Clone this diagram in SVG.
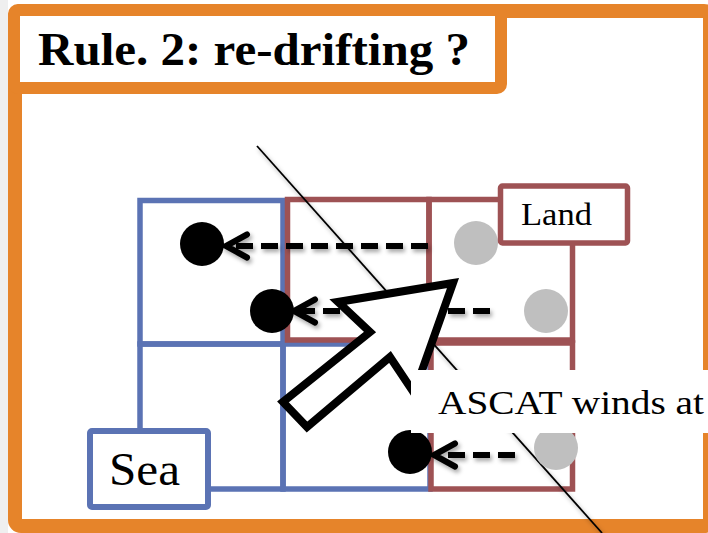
<svg xmlns="http://www.w3.org/2000/svg" width="708" height="533" viewBox="0 0 708 533">
  <style>
    .orange { fill: #ffffff; stroke: #E6842A; }
    .blue { fill: none; stroke: #5B73B4; stroke-width: 5.5; }
    .red { fill: none; stroke: #9E5254; stroke-width: 5.5; }
    .drift { fill: #000000; }
    .orig { fill: #BFBFBF; }
    .dash { fill: none; stroke: #000000; stroke-width: 6; stroke-dasharray: 17 8; marker-end: url(#chev); }
    .txt { font-family: "Liberation Serif", "DejaVu Serif", serif; fill: #000000; }
  </style>
  <defs>
    <marker id="chev" markerUnits="userSpaceOnUse" viewBox="0 0 32 32" markerWidth="32" markerHeight="32" refX="28" refY="16" orient="auto">
      <path d="M7,4.5 L28,16 L7,27.5" fill="none" stroke="#000000" stroke-width="6" stroke-linecap="round" stroke-linejoin="miter"/>
    </marker>
    <filter id="shadow" x="-20%" y="-20%" width="140%" height="160%">
      <feDropShadow dx="2" dy="3" stdDeviation="2" flood-color="#000000" flood-opacity="0.35"/>
    </filter>
  </defs>

  <rect x="0" y="0" width="708" height="533" fill="#ffffff"/>
  <rect x="0" y="0" width="8" height="533" fill="#efefef"/>

  <g id="frame">
    <rect class="orange" x="15" y="11" width="695" height="515" rx="6" stroke-width="14"/>
  </g>

  <g id="title">
    <rect class="orange" x="14" y="10" width="487" height="78" rx="4" stroke-width="12"/>
    <text class="txt" x="38" y="65" font-size="46" font-weight="bold" textLength="432" lengthAdjust="spacingAndGlyphs">Rule. 2: re-drifting ?</text>
  </g>

  <g id="sea-cells">
    <rect class="blue" x="140" y="200.5" width="143" height="143.5"/>
    <rect class="blue" x="140" y="344" width="143" height="145"/>
    <rect class="blue" x="283" y="344" width="147" height="145"/>
  </g>

  <g id="land-cells">
    <rect class="red" x="287.5" y="199.5" width="141.5" height="140.5"/>
    <rect class="red" x="429" y="199.5" width="143.5" height="140.5"/>
    <rect class="red" x="431" y="343" width="141.5" height="146"/>
  </g>

  <g id="coastline" filter="url(#shadow)">
    <line x1="257" y1="146" x2="602" y2="533" stroke="#000000" stroke-width="1.8"/>
  </g>

  <g id="original-points">
    <circle class="orig" cx="476" cy="243" r="22"/>
    <circle class="orig" cx="546" cy="311" r="22"/>
    <circle class="orig" cx="556" cy="448" r="22"/>
  </g>

  <g id="drifted-points">
    <circle class="drift" cx="202" cy="244" r="22"/>
    <circle class="drift" cx="272" cy="311" r="22"/>
    <circle class="drift" cx="410" cy="452" r="22"/>
  </g>

  <g id="connectors" filter="url(#shadow)">
    <line class="dash" x1="428" y1="246" x2="226" y2="246"/>
    <line class="dash" x1="490" y1="311" x2="294" y2="311"/>
    <line class="dash" x1="515" y1="455" x2="434" y2="455"/>
  </g>

  <g id="wind-arrow">
    <polygon points="453,283 338,302 370,332 283,402 307,427 390,357 414,393" fill="#ffffff" stroke="#000000" stroke-width="8" stroke-linejoin="miter"/>
  </g>

  <g id="land-label">
    <rect x="500.5" y="186" width="127" height="57" rx="2" fill="#ffffff" stroke="#9E5254" stroke-width="5.5"/>
    <text class="txt" x="521" y="225" font-size="32" textLength="71" lengthAdjust="spacingAndGlyphs">Land</text>
  </g>

  <g id="sea-label">
    <rect x="90" y="431" width="118" height="76" rx="2" fill="#ffffff" stroke="#5B73B4" stroke-width="6"/>
    <text class="txt" x="109" y="485" font-size="46" textLength="71" lengthAdjust="spacingAndGlyphs">Sea</text>
  </g>

  <g id="ascat-label">
    <rect x="411" y="370" width="297" height="63" fill="#ffffff"/>
    <text class="txt" x="438" y="414" font-size="33" textLength="266" lengthAdjust="spacingAndGlyphs">ASCAT winds at</text>
  </g>
</svg>
